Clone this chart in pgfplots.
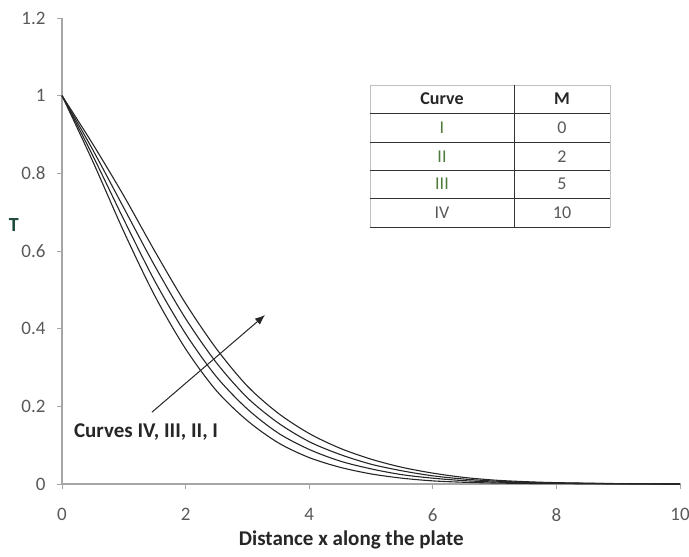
\documentclass[border=0pt]{standalone}
\usepackage{pgfplots}
\pgfplotsset{compat=1.18}
\usetikzlibrary{arrows.meta}
\usepackage{fontspec}
\setmainfont{Carlito}
\definecolor{axgray}{HTML}{A6A6A6}
\definecolor{tickcol}{HTML}{595959}
\definecolor{numgreen}{HTML}{4E7A3C}
\definecolor{tlabel}{HTML}{1F4A3A}
\begin{document}
\begin{tikzpicture}
\useasboundingbox (-62pt,-73pt) rectangle (627pt,484pt);
\begin{axis}[
  at={(0pt,0pt)}, anchor=south west,
  scale only axis, width=618pt, height=466pt,
  xmin=0, xmax=10, ymin=0, ymax=1.2,
  xtick={0,2,...,10}, ytick={0,0.2,...,1.2},
  yticklabels={0,0.2,0.4,0.6,0.8,1,1.2},
  axis x line=bottom, axis y line=left,
  axis line style={-, axgray, line width=1.2pt},
  tick style={axgray, line width=0.8pt},
  tick align=outside, major tick length=5pt,
  /pgf/number format/assume math mode=true,
  tick label style={font=\fontsize{19}{19}\selectfont, color=tickcol},
  xticklabel style={yshift=-16pt},
  yticklabel style={xshift=-8pt},
  xlabel={\textbf{Distance x along the plate}},
  xlabel style={font=\fontsize{21}{21}\selectfont, color=black!85, at={(axis description cs:0.468,-0.12)}, anchor=center},
  ylabel={\textbf{T}},
  ylabel style={font=\fontsize{20}{20}\selectfont, color=tlabel, rotate=-90, at={(axis description cs:-0.078,0.556)}, anchor=center},
  clip=false,
]
% Curve IV (M=10)
\addplot[smooth, black!85, line width=1.1pt] coordinates {
(0,1) (0.5,0.83) (1,0.65) (1.5,0.485) (2,0.348) (2.5,0.24) (3,0.163) (3.5,0.106)
(4,0.068) (4.5,0.043) (5,0.026) (5.5,0.015) (6,0.008) (6.5,0.0045) (7,0.0025)
(7.5,0.0015) (8,0.001) (9,0.0003) (10,0)};
% Curve III (M=5)
\addplot[smooth, black!85, line width=1.1pt] coordinates {
(0,1) (0.5,0.845) (1,0.681) (1.5,0.523) (2,0.387) (2.5,0.276) (3,0.193) (3.5,0.131)
(4,0.089) (4.5,0.059) (5,0.039) (5.5,0.024) (6,0.015) (6.5,0.0087) (7,0.005)
(7.5,0.003) (8,0.0018) (9,0.0005) (10,0)};
% Curve II (M=2)
\addplot[smooth, black!85, line width=1.1pt] coordinates {
(0,1) (0.5,0.86) (1,0.711) (1.5,0.562) (2,0.426) (2.5,0.312) (3,0.222) (3.5,0.157)
(4,0.109) (4.5,0.076) (5,0.051) (5.5,0.034) (6,0.021) (6.5,0.0128) (7,0.0075)
(7.5,0.0045) (8,0.0027) (9,0.0008) (10,0)};
% Curve I (M=0)
\addplot[smooth, black!85, line width=1.1pt] coordinates {
(0,1) (0.5,0.875) (1,0.742) (1.5,0.600) (2,0.465) (2.5,0.348) (3,0.252) (3.5,0.182)
(4,0.130) (4.5,0.092) (5,0.064) (5.5,0.043) (6,0.028) (6.5,0.017) (7,0.010)
(7.5,0.006) (8,0.0035) (9,0.001) (10,0)};
% arrow and label
\draw[-{Latex[length=10pt,width=8pt]}, black!85, line width=1pt] (axis cs:1.456,0.185) -- (axis cs:3.285,0.435);
\node[font=\bfseries\fontsize{21}{21}\selectfont, color=black!85] at (axis cs:1.36,0.134) {Curves IV, III, II, I};
% table
\draw[black!25, line width=0.8pt] (axis cs:4.984,0.6615) rectangle (axis cs:8.867,1.027);
\draw[black!80, line width=1pt] (axis cs:4.984,0.955) -- (axis cs:8.867,0.955);
\draw[black!80, line width=1pt] (axis cs:4.984,0.880) -- (axis cs:8.867,0.880);
\draw[black!80, line width=1pt] (axis cs:4.984,0.808) -- (axis cs:8.867,0.808);
\draw[black!80, line width=1pt] (axis cs:4.984,0.736) -- (axis cs:8.867,0.736);
\draw[black!80, line width=1pt] (axis cs:4.984,0.6615) -- (axis cs:8.867,0.6615);
\draw[black!80, line width=1pt] (axis cs:7.314,0.6615) -- (axis cs:7.314,1.027);
\node[font=\bfseries\fontsize{18}{18}\selectfont, color=black!85] at (axis cs:6.149,0.991) {Curve};
\node[font=\bfseries\fontsize{18}{18}\selectfont, color=black!85] at (axis cs:8.091,0.991) {M};
\node[font=\fontsize{18}{18}\selectfont, color=numgreen] at (axis cs:6.149,0.918) {I};
\node[font=\fontsize{18}{18}\selectfont, color=numgreen] at (axis cs:6.149,0.844) {II};
\node[font=\fontsize{18}{18}\selectfont, color=numgreen] at (axis cs:6.149,0.772) {III};
\node[font=\fontsize{18}{18}\selectfont, color=tickcol] at (axis cs:6.149,0.699) {IV};
\node[font=\fontsize{18}{18}\selectfont, color=tickcol] at (axis cs:8.091,0.918) {0};
\node[font=\fontsize{18}{18}\selectfont, color=tickcol] at (axis cs:8.091,0.844) {2};
\node[font=\fontsize{18}{18}\selectfont, color=tickcol] at (axis cs:8.091,0.772) {5};
\node[font=\fontsize{18}{18}\selectfont, color=tickcol] at (axis cs:8.091,0.699) {10};
\end{axis}
\end{tikzpicture}
\end{document}
